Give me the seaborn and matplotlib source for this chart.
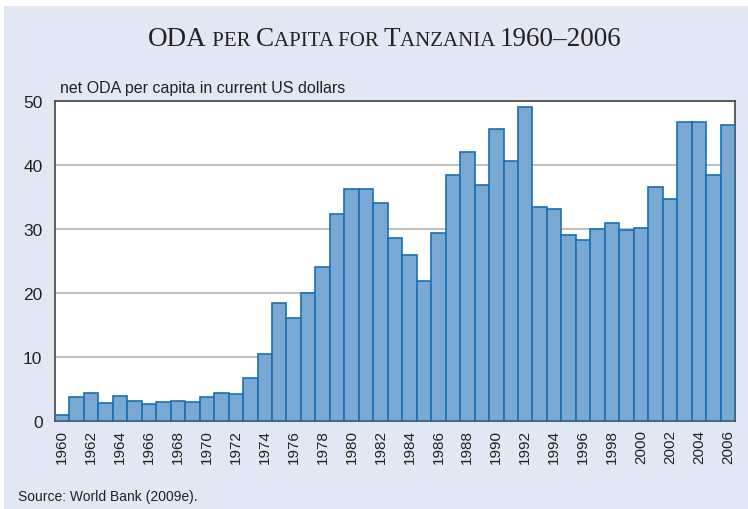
import numpy as np
import pandas as pd
import seaborn as sns
import matplotlib.pyplot as plt
from matplotlib.patches import Rectangle

years = list(range(1960, 2007))
oda = [1.0, 3.75, 4.3, 2.8, 3.85, 3.2, 2.65, 3.0, 3.2, 2.9,
       3.8, 4.4, 4.25, 6.7, 10.5, 18.4, 16.1, 19.95, 24.0, 32.4,
       36.2, 36.25, 34.1, 28.6, 25.9, 21.9, 29.4, 38.5, 42.1, 36.8,
       45.7, 40.7, 49.0, 33.5, 33.1, 29.1, 28.3, 30.0, 31.0, 29.9,
       30.1, 36.5, 34.7, 46.7, 46.75, 38.5, 46.3]
yticks = [0, 10, 20, 30, 40, 50]

bg = '#e1e8f3'
fill = '#79a9d3'
edge = '#1a6fb5'

df = pd.DataFrame({'year': [str(y) for y in years], 'oda': oda})

sns.set_style('white')
plt.rcParams['font.family'] = ['Liberation Sans', 'DejaVu Sans']

fig = plt.figure(figsize=(7.48, 5.10), dpi=100)
fig.patch.set_facecolor('white')
fig.patches.append(Rectangle((4 / 748, 0), 1, 1 - 7 / 510, transform=fig.transFigure,
                             facecolor=bg, edgecolor='none', zorder=-10))

ax = fig.add_axes([55 / 748, 1 - 422 / 510, 680 / 748, 320 / 510])
ax.set_facecolor('white')
sns.barplot(data=df, x='year', y='oda', color=fill, saturation=1, width=1,
            edgecolor=edge, linewidth=1.2, ax=ax, zorder=3)

ax.set_xlim(-0.5, len(years) - 0.5)
ax.set_ylim(0, 50)
ax.set_yticks(yticks)
ax.set_yticklabels([str(t) for t in yticks], fontsize=12.5, color='#222222')
ax.yaxis.grid(True, color='#b5b5b5', linewidth=1.2, zorder=0)
ax.set_axisbelow(True)

ax.set_xticks(range(0, len(years), 2))
ax.set_xticklabels([str(y) for y in years[::2]], rotation=90, fontsize=11, color='#222222')
ax.set_xticks(np.arange(-0.5, len(years), 1), minor=True)
ax.tick_params(axis='x', which='major', length=0, pad=6)
ax.tick_params(axis='x', which='minor', length=5, width=1, color='#333333', direction='out')
ax.tick_params(axis='y', length=6, width=1, color='#333333', direction='out', pad=3)
ax.set_xlabel('')
ax.set_ylabel('')

for s in ax.spines.values():
    s.set_visible(True)
    s.set_color('#444444')
    s.set_linewidth(1.2)

fig.text(60 / 748, 1 - 88 / 510, 'net ODA per capita in current US dollars',
         fontsize=11.5, color='#222222', va='center', ha='left')
fig.text(18 / 748, 1 - 497 / 510, 'Source: World Bank (2009e).',
         fontsize=10, color='#222222', va='center', ha='left')

# title in small caps, pieces placed side by side on one baseline
parts = [('ODA', True), (' PER ', False), ('C', True), ('APITA FOR ', False),
         ('T', True), ('ANZANIA ', False), ('1960\u20132006', True)]
texts = []
for txt, big in parts:
    size = 19.5 if big else 15
    t = fig.text(0, 1 - 46 / 510, txt, fontsize=size, family='Liberation Serif',
                 color='#222222', ha='left', va='baseline')
    texts.append(t)

fig.canvas.draw()
r = fig.canvas.get_renderer()
widths = [t.get_window_extent(r).width / fig.bbox.width for t in texts]
x = 385 / 748 - sum(widths) / 2
for t, w in zip(texts, widths):
    t.set_x(x)
    x += w

fig.savefig('out.png', dpi=100, facecolor=fig.get_facecolor())
